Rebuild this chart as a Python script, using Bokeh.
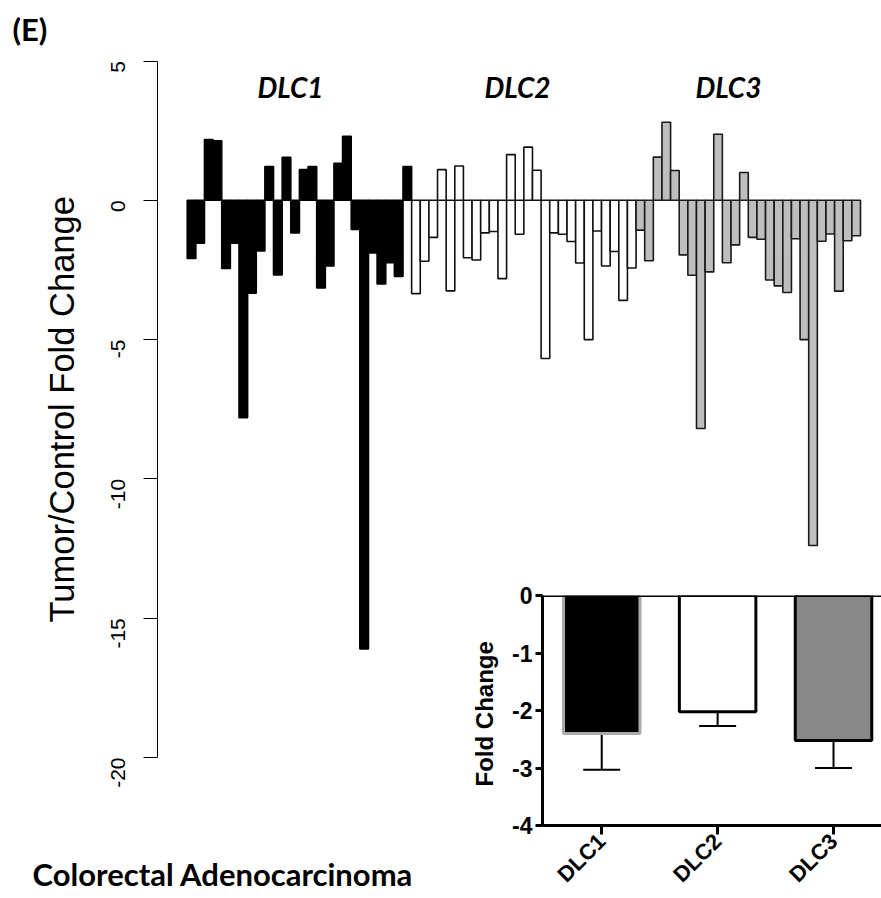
import math
from bokeh.plotting import figure
from bokeh.models import Range1d, FixedTicker, Span, Whisker, TeeHead, ColumnDataSource
from bokeh.core.properties import value
from bokeh.embed import file_html
from bokeh.resources import INLINE

# ---- data: tumor/control fold change per sample ----
dlc1 = [-2.09, -1.54, 2.18, 2.14, -2.45, -1.54, -7.80, -3.33, -1.82, 1.21, -2.68, 1.54, -1.17,
        1.10, 1.21, -3.15, -2.36, 1.33, 2.30, -1.05, -16.10, -1.89, -3.00, -2.24, -2.73, 1.21]
dlc2 = [-3.35, -2.19, -1.33, 1.10, -3.25, 1.23, -2.06, -2.14, -1.17, -1.12, -2.81, 1.64, -1.22,
        1.91, 1.08, -5.68, -1.17, -1.22, -1.48, -2.25, -5.00, -1.10, -2.36, -1.84, -3.59, -2.43]
dlc3 = [-1.07, -2.17, 1.55, 2.80, 1.07, -1.96, -2.69, -8.19, -2.57, 2.37, -2.24, -1.60, 1.00,
        -1.33, -1.40, -2.86, -3.07, -3.31, -1.38, -5.00, -12.39, -1.47, -1.21, -3.26, -1.45, -1.27]
group_names = ["DLC1", "DLC2", "DLC3"]
main_ticks = [5, 0, -5, -10, -15, -20]

# ---- inset data: mean fold change with error ----
inset_names = ["DLC1", "DLC2", "DLC3"]
inset_mean = [-2.40, -2.02, -2.52]
inset_err = [0.63, 0.25, 0.48]
inset_ticks = [0, -1, -2, -3, -4]

# ---- styles ----
group_fill = ["#000000", "#ffffff", "#bebebe"]
group_line = ["#000000", "#111111", "#1a1a1a"]
ARIAL = "Liberation Sans"
TITLE_FONT = "Lato"

# ================= main chart =================
# frame covers the whole canvas; the y axis is pinned at a data location
p = figure(width=881, height=898, output_backend="svg", toolbar_location=None,
           x_range=Range1d(-21.629, 80.433), y_range=Range1d(-25.061, 7.172),
           min_border_left=0, min_border_right=0, min_border_top=0, min_border_bottom=0,
           x_axis_location=None, y_axis_location="left")
p.grid.visible = False
p.outline_line_color = None
p.background_fill_color = "white"
p.border_fill_color = "white"

groups = [dlc1, dlc2, dlc3]
vals, xs, fills, lines = [], [], [], []
k = 0
for g, arr in enumerate(groups):
    for v in arr:
        vals.append(v)
        xs.append(k + 0.5)
        fills.append(group_fill[g])
        lines.append(group_line[g])
        k += 1
src = ColumnDataSource(dict(x=xs, top=vals, fill=fills, line=lines))
p.vbar(x="x", top="top", bottom=0, width=1, fill_color="fill", line_color="line",
       line_width=1.6, source=src)

ya = p.yaxis[0]
ya.fixed_location = -3.441
ya.ticker = FixedTicker(ticks=main_ticks)
ya.bounds = (-20, 5)
ya.major_label_overrides = {t: str(t) for t in main_ticks}
ya.major_label_orientation = math.pi / 2
ya.major_label_text_font = ARIAL
ya.major_label_text_font_size = "21px"
ya.major_label_text_color = "black"
ya.major_label_standoff = 25
ya.major_tick_out = 14
ya.major_tick_in = 0
ya.minor_tick_line_color = None
ya.axis_line_color = "black"
ya.axis_line_width = 1
ya.major_tick_line_width = 1

# y axis title (placed along the axis like the original)
p.text(x=[-14.45], y=[-7.50], text=["Tumor/Control Fold Change"], angle=math.pi / 2,
       text_font=value(ARIAL), text_font_size="34.5px", text_align="center",
       text_baseline="middle", text_color="black")

# group titles
p.text(x=[11.97, 38.27, 62.7], y=[4.05, 4.05, 4.05], text=group_names,
       text_font=value(TITLE_FONT), text_font_style="bold italic", text_font_size="28px",
       text_align="center", text_baseline="middle", text_color="black")

p.text(x=[-20.24], y=[6.14], text=["(E)"], text_font=value(TITLE_FONT),
       text_font_style="bold", text_font_size="31px", text_align="left",
       text_baseline="middle", text_color="black")
p.text(x=[-17.92], y=[-24.19], text=["Colorectal Adenocarcinoma"], text_font=value(TITLE_FONT),
       text_font_style="bold", text_font_size="31px", text_align="left",
       text_baseline="middle", text_color="black")

# ================= inset =================
q = figure(width=421, height=318, output_backend="svg", toolbar_location=None,
           x_range=Range1d(0.489, 3.414), y_range=Range1d(-4, 0),
           min_border_left=82, min_border_right=0, min_border_top=15, min_border_bottom=72)
q.styles = {"position": "absolute", "left": "460px", "top": "580px"}
q.grid.visible = False
q.outline_line_color = None
q.background_fill_alpha = 0
q.border_fill_alpha = 0

ix = [i + 1 for i in range(len(inset_names))]
isrc = ColumnDataSource(dict(x=ix, bottom=inset_mean,
                             fill=["#000000", "#ffffff", "#888888"],
                             line=["#aaaaaa", "#000000", "#000000"]))
q.vbar(x="x", top=0, bottom="bottom", width=0.66, fill_color="fill", line_color="line",
       line_width=3, source=isrc)

wsrc = ColumnDataSource(dict(base=ix, upper=inset_mean,
                             lower=[m - e for m, e in zip(inset_mean, inset_err)]))
q.add_layout(Whisker(base="base", upper="upper", lower="lower", source=wsrc,
                     line_width=2, line_color="black", upper_head=None,
                     lower_head=TeeHead(size=37, line_width=2, line_color="black")))
q.add_layout(Span(location=0, dimension="width", line_width=3, line_color="black"))

qy = q.yaxis[0]
qy.ticker = FixedTicker(ticks=inset_ticks)
qy.major_label_overrides = {t: str(t) for t in inset_ticks}
qy.major_label_text_font = ARIAL
qy.major_label_text_font_style = "bold"
qy.major_label_text_font_size = "23px"
qy.major_label_text_color = "black"
qy.major_label_standoff = 3
qy.major_tick_out = 7
qy.major_tick_in = 0
qy.major_tick_line_width = 3
qy.minor_tick_line_color = None
qy.axis_line_width = 3
qy.axis_label = "Fold  Change"
qy.axis_label_text_font = ARIAL
qy.axis_label_text_font_style = "bold"
qy.axis_label_text_font_size = "24px"
qy.axis_label_text_color = "black"
qy.axis_label_standoff = 11

qx = q.xaxis[0]
qx.ticker = FixedTicker(ticks=ix)
qx.major_label_overrides = {i: n for i, n in zip(ix, inset_names)}
qx.major_label_orientation = math.pi / 4
qx.major_label_text_font = ARIAL
qx.major_label_text_font_style = "bold"
qx.major_label_text_font_size = "22px"
qx.major_label_text_color = "black"
qx.major_label_standoff = 3
qx.major_tick_out = 9
qx.major_tick_in = 0
qx.major_tick_line_width = 3
qx.minor_tick_line_color = None
qx.axis_line_width = 3

open("out.html", "w").write(file_html([p, q], INLINE))
